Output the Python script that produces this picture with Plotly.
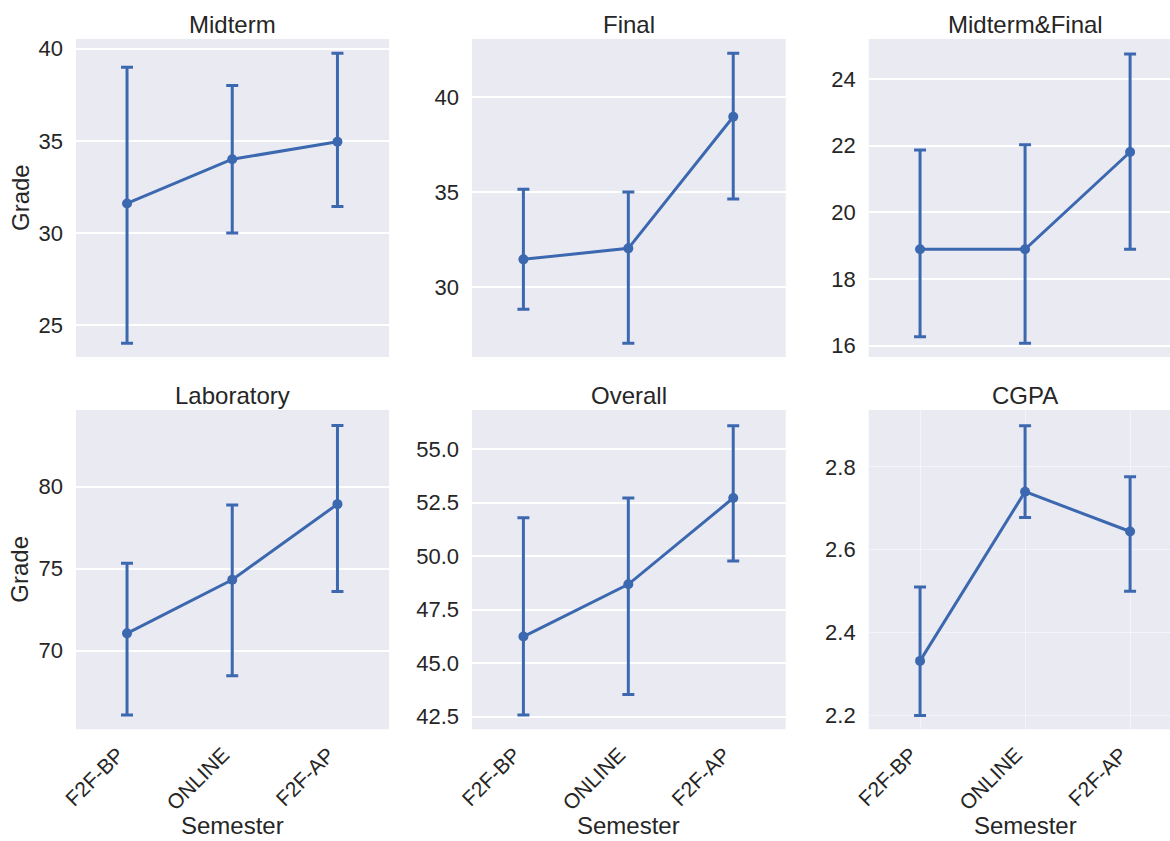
import plotly.graph_objects as go

semesters = ["F2F-BP", "ONLINE", "F2F-AP"]

titles = ["Midterm", "Final", "Midterm&Final", "Laboratory", "Overall", "CGPA"]

midterm_mean = [31.6, 34.0, 34.95]
midterm_low = [24.0, 30.0, 31.43]
midterm_high = [39.0, 38.0, 39.75]

final_mean = [31.47, 32.05, 38.98]
final_low = [28.84, 27.05, 34.65]
final_high = [35.16, 35.02, 42.32]

mf_mean = [18.89, 18.89, 21.81]
mf_low = [16.27, 16.07, 18.89]
mf_high = [21.87, 22.03, 24.75]

lab_mean = [71.06, 74.33, 78.94]
lab_low = [66.08, 68.48, 73.62]
lab_high = [75.33, 78.88, 83.74]

overall_mean = [46.24, 48.68, 52.71]
overall_low = [42.58, 43.54, 49.77]
overall_high = [51.79, 52.71, 56.08]

cgpa_mean = [2.332, 2.740, 2.644]
cgpa_low = [2.200, 2.678, 2.500]
cgpa_high = [2.510, 2.899, 2.776]

panels = [
    (midterm_mean, midterm_low, midterm_high),
    (final_mean, final_low, final_high),
    (mf_mean, mf_low, mf_high),
    (lab_mean, lab_low, lab_high),
    (overall_mean, overall_low, overall_high),
    (cgpa_mean, cgpa_low, cgpa_high),
]

y_ranges = [[23.26, 40.53], [26.33, 43.07], [15.66, 25.2],
            [65.21, 84.68], [41.91, 56.82], [2.167, 2.937]]
y_dticks = [5, 5, 2, 5, 2.5, 0.2]
y_formats = ["d", "d", "d", "d", ".1f", ".1f"]

W, H = 1170, 841
col_px = [(76, 389), (472, 785.7), (868.7, 1170)]
row_px = [(39, 357), (410, 729.3)]
x_ranges = [[-0.485, 2.49], [-0.49, 2.5], [-0.489, 2.38]]

COLOR = "#3C68B0"
TXT = "#262626"
FONT = "Liberation Sans, Arial, sans-serif"

fig = go.Figure()
annotations = []
for i, (mean, low, high) in enumerate(panels):
    r, c = divmod(i, 3)
    n = i + 1
    xa = "x" if n == 1 else f"x{n}"
    ya = "y" if n == 1 else f"y{n}"
    plus = [h - m for h, m in zip(high, mean)]
    minus = [m - l for m, l in zip(mean, low)]
    fig.add_trace(go.Scatter(
        x=semesters, y=mean, mode="lines+markers",
        line=dict(color=COLOR, width=3),
        marker=dict(color=COLOR, size=10),
        error_y=dict(type="data", symmetric=False, array=plus, arrayminus=minus,
                     color=COLOR, thickness=3, width=6),
        xaxis=xa, yaxis=ya, showlegend=False,
    ))
    x0, x1 = col_px[c]
    yt, yb = row_px[r]
    xdom = [x0 / W, min(x1 / W, 1.0)]
    ydom = [1 - yb / H, 1 - yt / H]
    cgpa = (i == 5)
    gridc = "rgba(255,255,255,0.5)" if cgpa else "white"
    xkey = "xaxis" if n == 1 else f"xaxis{n}"
    ykey = "yaxis" if n == 1 else f"yaxis{n}"
    fig.update_layout(**{
        xkey: dict(domain=xdom, anchor=ya, type="category", automargin=False,
                   categoryorder="array", categoryarray=semesters,
                   range=x_ranges[c],
                   showticklabels=(r == 1), tickangle=-45,
                   tickfont=dict(size=21, color=TXT, family=FONT),
                   ticklabelstandoff=8, ticklabelshift=-9,
                   showgrid=cgpa, gridcolor=gridc, gridwidth=1.2,
                   zeroline=False, showline=False, ticks=""),
        ykey: dict(domain=ydom, anchor=xa, range=y_ranges[i], automargin=False,
                   dtick=y_dticks[i], tick0=0, tickformat=y_formats[i],
                   tickfont=dict(size=22, color=TXT, family=FONT),
                   ticklabelstandoff=12,
                   showgrid=True, gridcolor=gridc, gridwidth=1.5 if not cgpa else 1.2,
                   zeroline=False, showline=False, ticks=""),
    })
    cx = (x0 + x1) / 2 if c < 2 else (868.7 + 1182) / 2
    annotations.append(dict(text=titles[i], x=cx / W,
                            y=1 - (yt + 1) / H, xref="paper", yref="paper",
                            xanchor="center", yanchor="bottom", showarrow=False,
                            font=dict(size=24, color=TXT, family=FONT)))
    if c == 0:
        annotations.append(dict(text="Grade", x=20 / W, y=1 - ((yt + yb) / 2) / H,
                                xref="paper", yref="paper", textangle=-90,
                                xanchor="center", yanchor="middle", showarrow=False,
                                font=dict(size=24, color=TXT, family=FONT)))
    if r == 1:
        annotations.append(dict(text="Semester", x=cx / W, y=0.5 / H,
                                xref="paper", yref="paper",
                                xanchor="center", yanchor="bottom", showarrow=False,
                                font=dict(size=24, color=TXT, family=FONT)))

fig.update_layout(
    width=W, height=H,
    margin=dict(l=0, r=0, t=0, b=0, autoexpand=False),
    paper_bgcolor="white",
    plot_bgcolor="#EAEAF2",
    annotations=annotations,
    font=dict(family=FONT, color=TXT),
)

fig.write_html("out.html", config={"displayModeBar": False},
               post_script="document.body.style.margin='0';document.body.style.overflow='hidden';")
